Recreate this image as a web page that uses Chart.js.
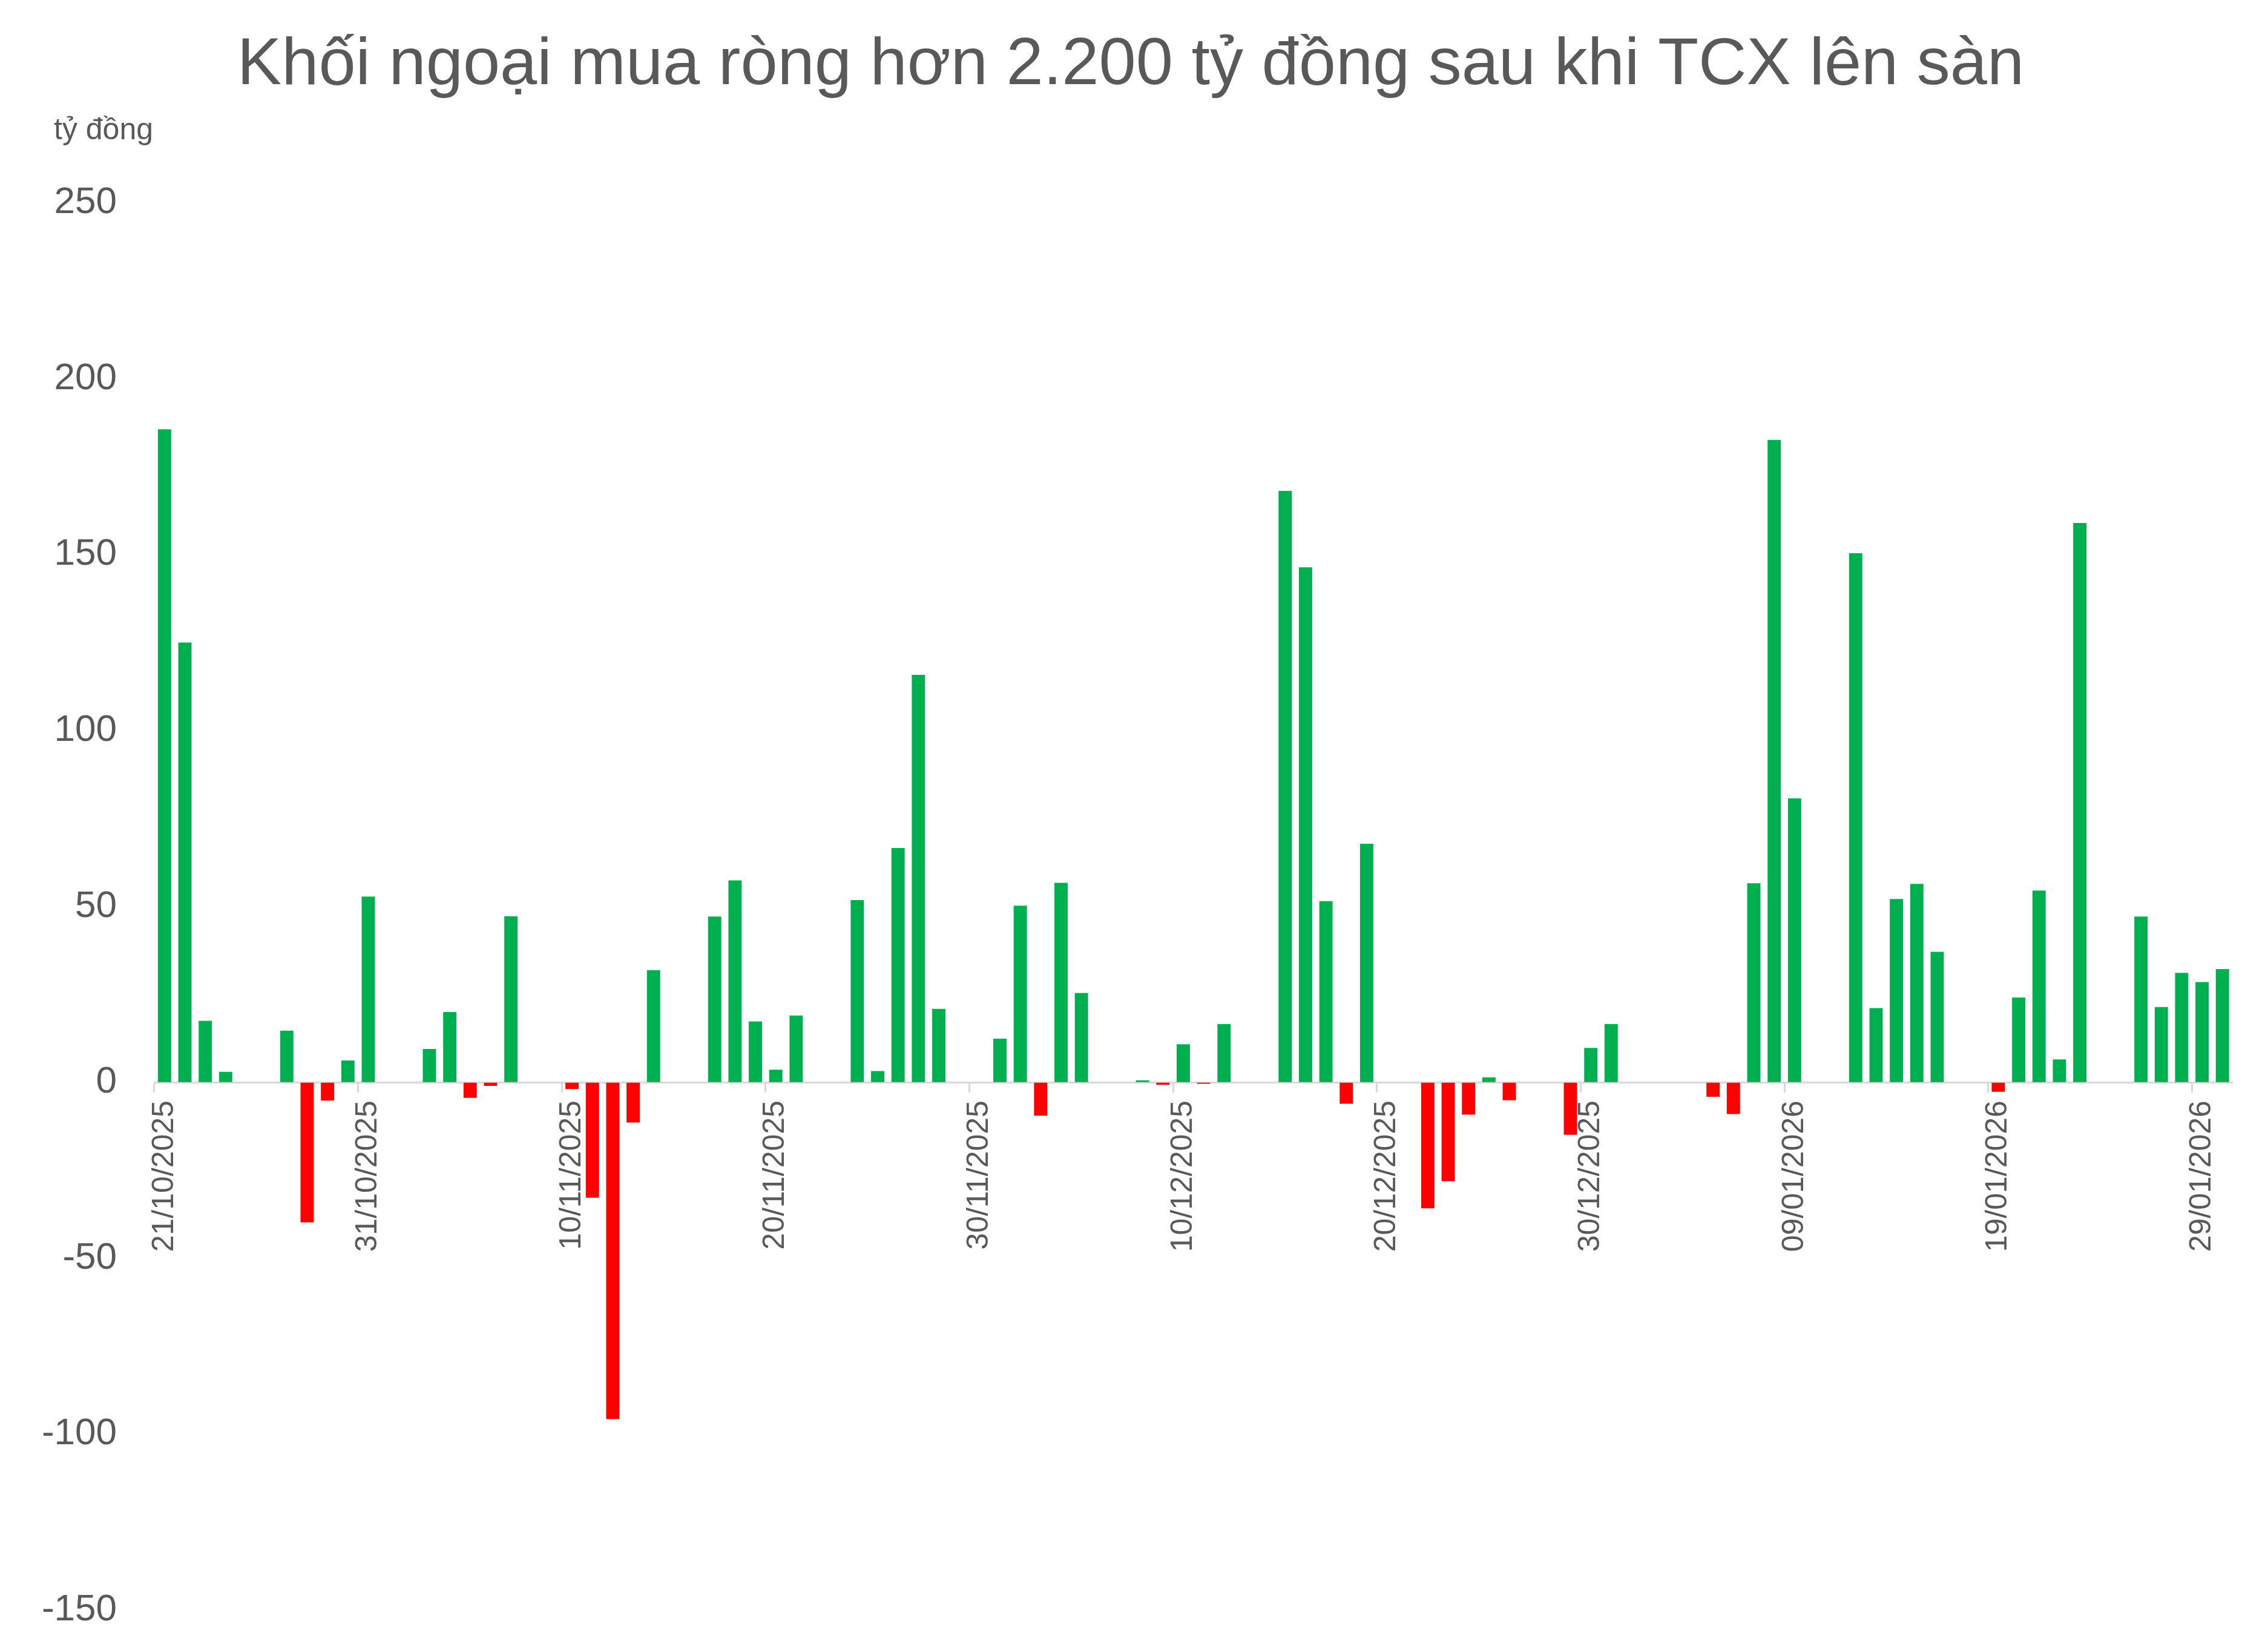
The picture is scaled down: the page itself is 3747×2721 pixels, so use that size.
<!DOCTYPE html>
<html lang="vi">
<head>
<meta charset="utf-8">
<title>Khối ngoại mua ròng</title>
<script src="https://cdn.jsdelivr.net/npm/chart.js@4.4.1/dist/chart.umd.min.js"></script>
<style>
    html, body { margin: 0; padding: 0; background: #fff; }
    #wrap { width: 3747px; height: 2721px; }
</style>
</head>
<body>
<div id="wrap"><canvas id="myChart" width="3747" height="2721"></canvas></div>
<script>
const chartTitle = 'Khối ngoại mua ròng hơn 2.200 tỷ đồng sau khi TCX lên sàn';
const unitLabel = 'tỷ đồng';

// one category per calendar day, weekends / holidays have no value
const dates = [
    '21/10/2025', '22/10/2025', '23/10/2025', '24/10/2025', '25/10/2025', '26/10/2025', '27/10/2025',
    '28/10/2025', '29/10/2025', '30/10/2025', '31/10/2025', '01/11/2025', '02/11/2025', '03/11/2025',
    '04/11/2025', '05/11/2025', '06/11/2025', '07/11/2025', '08/11/2025', '09/11/2025', '10/11/2025',
    '11/11/2025', '12/11/2025', '13/11/2025', '14/11/2025', '15/11/2025', '16/11/2025', '17/11/2025',
    '18/11/2025', '19/11/2025', '20/11/2025', '21/11/2025', '22/11/2025', '23/11/2025', '24/11/2025',
    '25/11/2025', '26/11/2025', '27/11/2025', '28/11/2025', '29/11/2025', '30/11/2025', '01/12/2025',
    '02/12/2025', '03/12/2025', '04/12/2025', '05/12/2025', '06/12/2025', '07/12/2025', '08/12/2025',
    '09/12/2025', '10/12/2025', '11/12/2025', '12/12/2025', '13/12/2025', '14/12/2025', '15/12/2025',
    '16/12/2025', '17/12/2025', '18/12/2025', '19/12/2025', '20/12/2025', '21/12/2025', '22/12/2025',
    '23/12/2025', '24/12/2025', '25/12/2025', '26/12/2025', '27/12/2025', '28/12/2025', '29/12/2025',
    '30/12/2025', '31/12/2025', '01/01/2026', '02/01/2026', '03/01/2026', '04/01/2026', '05/01/2026',
    '06/01/2026', '07/01/2026', '08/01/2026', '09/01/2026', '10/01/2026', '11/01/2026', '12/01/2026',
    '13/01/2026', '14/01/2026', '15/01/2026', '16/01/2026', '17/01/2026', '18/01/2026', '19/01/2026',
    '20/01/2026', '21/01/2026', '22/01/2026', '23/01/2026', '24/01/2026', '25/01/2026', '26/01/2026',
    '27/01/2026', '28/01/2026', '29/01/2026', '30/01/2026'
];

// net foreign buy, tỷ đồng
const netBuy = [
    185.6, 125.0, 17.5, 3.0, null, null, 14.7,
    -39.8, -5.2, 6.2, 52.8, null, null, 9.5,
    20.0, -4.4, -1.0, 47.2, null, null, -1.9,
    -32.8, -95.7, -11.4, 31.9, null, null, 47.1,
    57.4, 17.3, 3.6, 19.0, null, null, 51.8,
    3.2, 66.6, 115.8, 20.9, null, null, 12.4,
    50.2, -9.5, 56.7, 25.4, null, null, 0.6,
    -0.7, 10.8, -0.4, 16.6, null, null, 168.1,
    146.4, 51.5, -6.1, 67.8, null, null, -35.8,
    -28.1, -9.2, 1.4, -5.1, null, null, -14.9,
    9.8, 16.6, null, null, null, null, -4.1,
    -9.0, 56.6, 182.6, 80.7, null, null, 150.4,
    21.1, 52.1, 56.4, 37.1, null, null, -2.7,
    24.1, 54.5, 6.5, 159.0, null, null, 47.1,
    21.4, 31.1, 28.5, 32.2
];

const yTicks = [250, 200, 150, 100, 50, 0, -50, -100, -150];
const labelEvery = 10;

const GREEN = '#00b050';
const RED = '#ff0000';
const TEXT = '#595959';
const AXIS = '#d9d9d9';
const FONT = '"Liberation Sans", Arial, Helvetica, sans-serif';

const barColors = netBuy.map((v) => (v !== null && v < 0) ? RED : GREEN);

// "tỷ đồng" sits above the y labels, left of the plot
const unitLabelPlugin = {
    id: 'unitLabel',
    afterDraw(chart) {
        const c = chart.ctx;
        c.save();
        c.font = '50px ' + FONT;
        c.fillStyle = TEXT;
        c.textAlign = 'left';
        c.textBaseline = 'alphabetic';
        c.fillText(unitLabel, chart.chartArea.left - 166, chart.chartArea.top - 105);
        c.restore();
    }
};

const ctx = document.getElementById('myChart').getContext('2d');
const myChart = new Chart(ctx, {
    type: 'bar',
    plugins: [unitLabelPlugin],
    data: {
        labels: dates,
        datasets: [
            {
                label: unitLabel,
                data: netBuy,
                backgroundColor: barColors,
                borderWidth: 0,
                barPercentage: 0.65,
                categoryPercentage: 1
            }
        ]
    },
    options: {
        responsive: false,
        animation: false,
        devicePixelRatio: 1,
        layout: {
            padding: {top: 20, left: 40, right: 51, bottom: 61}
        },
        scales: {
            x: {
                position: {y: 0},
                offset: true,
                border: {display: true, color: AXIS, width: 3},
                grid: {
                    display: true,
                    offset: true,
                    drawOnChartArea: false,
                    drawTicks: true,
                    tickLength: 15,
                    tickWidth: 3,
                    // only mark the labelled days
                    tickColor: (c) => (c.index % labelEvery === 0 && c.index < dates.length) ? AXIS : 'rgba(0,0,0,0)'
                },
                ticks: {
                    autoSkip: false,
                    maxRotation: 90,
                    minRotation: 90,
                    padding: 15,
                    color: TEXT,
                    font: {family: FONT, size: 50},
                    callback: function (value, index) {
                        return index % labelEvery === 0 ? dates[index] : '';
                    }
                }
            },
            y: {
                min: -150,
                max: 250,
                afterFit: (scale) => { scale.width = 215; },
                afterBuildTicks: (scale) => { scale.ticks = yTicks.map((v) => ({value: v})); },
                border: {display: false},
                // invisible tick marks give the gap between labels and plot
                grid: {
                    display: true,
                    drawOnChartArea: false,
                    drawTicks: true,
                    tickLength: 62,
                    tickColor: 'rgba(0,0,0,0)'
                },
                ticks: {
                    padding: 0,
                    color: TEXT,
                    font: {family: FONT, size: 62}
                }
            }
        },
        plugins: {
            legend: {display: false},
            tooltip: {enabled: false},
            title: {
                display: true,
                text: chartTitle,
                color: TEXT,
                font: {family: FONT, size: 110, weight: 'normal', lineHeight: 1.2},
                padding: {top: 23, bottom: 160}
            }
        }
    }
});
</script>
</body>
</html>
